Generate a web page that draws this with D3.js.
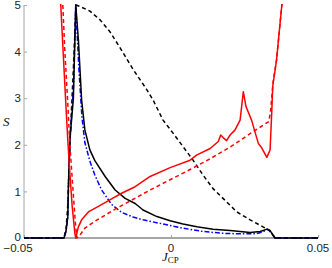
<!DOCTYPE html>
<html>
<head>
<meta charset="utf-8">
<script src="https://cdn.jsdelivr.net/npm/d3@7"></script>
<style>
  body { margin: 0; background: #fff; }
  svg { display: block; }
</style>
</head>
<body>
<script>
// ### data (J_CP, S)
const xTicks = [-0.05, 0, 0.05];
const yTicks = [0, 1, 2, 3, 4, 5];

const blackSolidJ = [-0.05, -0.0364, -0.0357, -0.0351, -0.0349, -0.0344, -0.0332, -0.0324, -0.0315, -0.0304, -0.0293, -0.0276, -0.0259, -0.0224, -0.0190, -0.0156, -0.0122, -0.0095, -0.0048, -0.0003, 0.0041, 0.0088, 0.0143, 0.0201, 0.0269, 0.0303, 0.0327, 0.0337, 0.0354, 0.05];
const blackSolidS = [0, 0, 0.15, 0.45, 1.1, 2.1, 3.0, 5.0, 4.25, 2.96, 2.32, 1.89, 1.66, 1.32, 1.03, 0.85, 0.74, 0.60, 0.46, 0.37, 0.30, 0.24, 0.19, 0.16, 0.12, 0.14, 0.19, 0.16, 0, 0];

const blackDashJ = [-0.05, -0.0364, -0.0357, -0.0350, -0.0344, -0.0333, -0.0323, -0.0310, -0.0276, -0.0241, -0.0207, -0.0173, -0.0129, -0.0082, -0.0061, -0.0027, 0.0007, 0.0041, 0.0075, 0.0109, 0.0143, 0.0177, 0.0224, 0.0269, 0.0313, 0.0333, 0.0354, 0.05];
const blackDashS = [0, 0, 0.2, 0.8, 2.0, 3.5, 5.0, 4.97, 4.87, 4.68, 4.42, 4.08, 3.62, 3.18, 2.96, 2.53, 2.25, 1.96, 1.67, 1.35, 1.06, 0.85, 0.56, 0.39, 0.24, 0.17, 0, 0];

const blueJ = [-0.05, -0.0364, -0.0357, -0.0351, -0.0349, -0.0344, -0.0332, -0.0324, -0.0313, -0.0303, -0.0293, -0.0276, -0.0259, -0.0236, -0.0202, -0.0168, -0.0129, -0.0095, -0.0027, 0.0041, 0.0109, 0.0177, 0.0235, 0.0286, 0.0313, 0.0327, 0.0337, 0.0354, 0.05];
const blueS = [0, 0, 0.15, 0.45, 1.1, 2.1, 3.2, 5.0, 3.6, 2.6, 2.05, 1.65, 1.35, 1.03, 0.72, 0.55, 0.45, 0.39, 0.30, 0.21, 0.14, 0.10, 0.09, 0.09, 0.13, 0.19, 0.15, 0, 0];

const redSolidJ = [-0.0378, -0.0375, -0.0366, -0.0357, -0.0351, -0.0344, -0.0336, -0.0327, -0.0324, -0.0315, -0.0304, -0.0281, -0.0247, -0.0202, -0.0168, -0.0122, -0.0071, -0.0003, 0.0065, 0.0087, 0.0133, 0.0161, 0.0169, 0.0178, 0.0189, 0.0201, 0.0218, 0.0235, 0.0246, 0.0255, 0.0274, 0.0297, 0.0309, 0.0326, 0.0337, 0.0343, 0.0346, 0.0354, 0.0359, 0.0377, 0.0379];
const redSolidS = [5.3, 5.0, 3.89, 2.79, 2.10, 1.39, 0.67, 0.1, 0, 0.24, 0.39, 0.56, 0.68, 0.84, 0.96, 1.10, 1.32, 1.51, 1.67, 1.78, 1.92, 2.07, 2.21, 2.15, 2.09, 2.21, 2.32, 2.53, 3.14, 2.82, 2.53, 2.03, 1.93, 1.73, 1.89, 2.75, 3.25, 3.6, 3.82, 5.0, 5.3];

const redDashJ = [-0.0371, -0.0368, -0.0361, -0.0352, -0.0344, -0.0333, -0.0325, -0.0320, -0.0310, -0.0293, -0.0259, -0.0224, -0.0190, -0.0146, -0.0071, -0.0003, 0.0065, 0.0133, 0.0201, 0.0279, 0.0333, 0.0339, 0.0348, 0.0359, 0.0377, 0.0379];
const redDashS = [5.3, 5.0, 4.0, 3.0, 2.0, 1.0, 0.3, 0, 0.06, 0.21, 0.36, 0.49, 0.62, 0.77, 1.03, 1.25, 1.47, 1.70, 1.95, 2.28, 2.50, 2.75, 3.39, 3.82, 5.0, 5.3];

const width = 332, height = 268;
const x = d3.scaleLinear().domain([-0.05, 0.05]).range([24, 318]);
const y = d3.scaleLinear().domain([0, 5]).range([238, 5]);

const svg = d3.select("body").append("svg")
  .attr("width", width)
  .attr("height", height);

svg.append("clipPath").attr("id", "plot")
  .append("rect")
  .attr("x", x(-0.05)).attr("y", y(5) - 1)
  .attr("width", x(0.05) - x(-0.05)).attr("height", y(0) - y(5) + 2);

// axes (grey, ticks pointing in)
const axisColor = "#a6a6a6";
const xAxis = svg.append("g")
  .attr("transform", `translate(0,${y(0)})`)
  .call(d3.axisTop(x).tickValues(xTicks).tickSize(3).tickFormat(""));
const yAxis = svg.append("g")
  .attr("transform", `translate(${x(-0.05)},0)`)
  .call(d3.axisRight(y).tickValues(yTicks).tickSize(3).tickFormat(""));
[xAxis, yAxis].forEach(a => {
  a.selectAll("path").attr("stroke", axisColor);
  a.selectAll("line").attr("stroke", axisColor);
});
xAxis.select("path").attr("d", `M${x(-0.05)},0H${x(0.05)}`).attr("stroke-width", 2);
yAxis.select("path").attr("d", `M0,${y(0)}V${y(5)}`).attr("stroke-width", 1);

// tick labels
svg.append("g").selectAll("text")
  .data(yTicks)
  .join("text")
  .attr("x", 21)
  .attr("y", d => y(d) - (d === 0 ? 1 : 0))
  .attr("dy", "0.36em")
  .attr("text-anchor", "end")
  .style("font", "11.5px 'Liberation Sans', Arial, sans-serif")
  .attr("fill", "#222")
  .text(d => d);

svg.append("g").selectAll("text")
  .data(xTicks)
  .join("text")
  .attr("x", d => x(d) + (d < 0 ? -6 : 0))
  .attr("y", 252)
  .attr("text-anchor", "middle")
  .style("font", "11.5px 'Liberation Sans', Arial, sans-serif")
  .attr("fill", "#222")
  .text(d => d === 0 ? "0" : (d < 0 ? "\u2212" : "") + Math.abs(d).toFixed(2));

// axis labels
const xl = svg.append("text")
  .attr("x", 162).attr("y", 261)
  .style("font", "13px 'Liberation Serif', 'Times New Roman', serif")
  .attr("fill", "#111");
xl.append("tspan").style("font-style", "italic").text("J");
xl.append("tspan").attr("dy", 2).style("font-size", "9px").text("CP");

svg.append("text")
  .attr("x", 3).attr("y", 126)
  .style("font", "italic 13px 'Liberation Serif', 'Times New Roman', serif")
  .attr("fill", "#111")
  .text("S");

// curves
const line = d3.line().x(d => x(d[0])).y(d => y(d[1]));
const plot = svg.append("g").attr("clip-path", "url(#plot)").attr("fill", "none");

const series = [
  { J: blackDashJ, S: blackDashS, color: "#000", dash: "4,3" },
  { J: blueJ, S: blueS, color: "#0000ff", dash: "5,2,1.5,2" },
  { J: blackSolidJ, S: blackSolidS, color: "#000", dash: null },
  { J: redDashJ, S: redDashS, color: "#ff0000", dash: "4,3" },
  { J: redSolidJ, S: redSolidS, color: "#ff0000", dash: null }
];

plot.selectAll("path")
  .data(series)
  .join("path")
  .attr("d", d => line(d3.zip(d.J, d.S)))
  .attr("stroke", d => d.color)
  .attr("stroke-width", 1.5)
  .attr("stroke-dasharray", d => d.dash)
  .attr("stroke-linejoin", "round");
</script>
</body>
</html>
